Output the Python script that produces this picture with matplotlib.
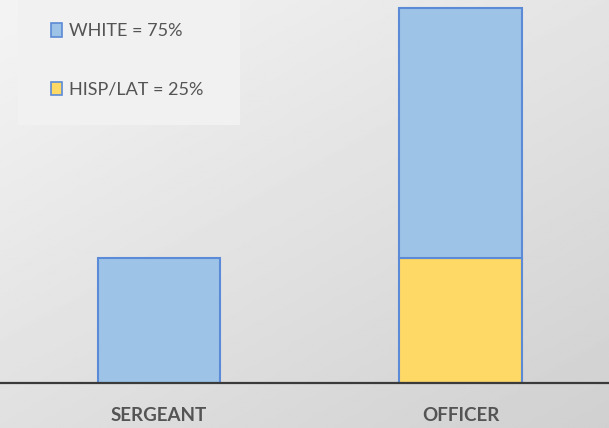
import numpy as np
import matplotlib
matplotlib.use("Agg")
import matplotlib.pyplot as plt
from matplotlib.patches import Patch, Rectangle

categories = ["SERGEANT", "OFFICER"]
hisp_lat = [0, 1]
white = [1, 2]
legend_labels = ["WHITE = 75%", "HISP/LAT = 25%"]

blue = "#9dc3e6"
yellow = "#ffd966"
edge = "#5b8ad6"
text_color = "#545454"

fig = plt.figure(figsize=(6.09, 4.28), dpi=100)

# gradient background
bg = fig.add_axes([0, 0, 1, 1], zorder=0)
gx, gy = np.meshgrid(np.linspace(0, 1, 200), np.linspace(0, 1, 200))
shade = (244 - 16 * gx - 20 * gy) / 255
bg.imshow(shade, cmap="gray", vmin=0, vmax=1, aspect="auto", extent=[0, 1, 0, 1], origin="upper")
bg.axis("off")

# lighter box behind the legend
fig.patches.append(Rectangle((18 / 609, 1 - 125 / 428), 222 / 609, 125 / 428,
                             transform=fig.transFigure, facecolor="#f1f1f1",
                             edgecolor="none", zorder=0.5))

ax = fig.add_axes([0, 45 / 428, 1, 383 / 428], zorder=1)
ax.patch.set_alpha(0)

x = np.arange(len(categories))
ax.bar(x, hisp_lat, width=0.405, color=yellow, edgecolor=edge, linewidth=1.5)
ax.bar(x, white, width=0.405, bottom=hisp_lat, color=blue, edgecolor=edge, linewidth=1.5)

ax.set_xlim(-0.527, 1.4925)
ax.set_ylim(0, 3.064)
ax.set_yticks([])
ax.set_xticks(x)
ax.set_xticklabels(categories, fontsize=13.5, fontweight="bold", color=text_color, family="Lato")
ax.tick_params(axis="x", length=0, pad=17)
for s in ["top", "right", "left"]:
    ax.spines[s].set_visible(False)
ax.spines["bottom"].set_color("#3a3a3a")
ax.spines["bottom"].set_linewidth(1.6)

handles = [Patch(facecolor=blue, edgecolor=edge, linewidth=1.2),
           Patch(facecolor=yellow, edgecolor=edge, linewidth=1.2)]
leg = fig.legend(handles, legend_labels, loc="upper left", bbox_to_anchor=(51 / 609, 1 - 23 / 428),
                 prop={"family": "Lato", "size": 13}, labelcolor=text_color,
                 handlelength=0.6, handleheight=0.8, handletextpad=0.4,
                 labelspacing=2.35, borderpad=0, borderaxespad=0,
                 frameon=False)
leg.set_zorder(2)

fig.savefig("out.png", dpi=100)
